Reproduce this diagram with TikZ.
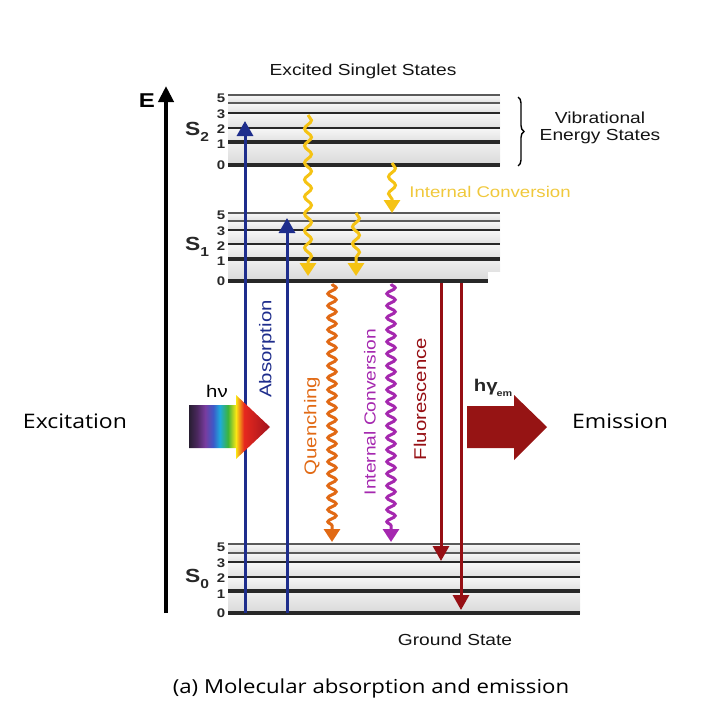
\documentclass[tikz,border=0pt]{standalone}
\usepackage{fontspec}
\setmainfont{Liberation Sans}
\newfontfamily\diagfont[FakeStretch=1.2]{Liberation Sans}
\newfontfamily\capfont[FakeStretch=1.15]{Open Sans}
\usetikzlibrary{arrows.meta,decorations.pathmorphing,decorations.pathreplacing}

\definecolor{absblue}{RGB}{30,45,140}
\definecolor{gold}{RGB}{245,195,20}
\definecolor{goldtext}{RGB}{240,200,60}
\definecolor{qorange}{RGB}{225,105,20}
\definecolor{icpurple}{RGB}{165,40,175}
\definecolor{fred}{RGB}{150,15,20}
\definecolor{emred}{RGB}{150,20,20}
\definecolor{lvdark}{RGB}{40,40,40}
\definecolor{lvgray}{RGB}{90,90,90}
\definecolor{rb0}{RGB}{40,30,50}
\definecolor{rb1}{RGB}{75,40,95}
\definecolor{rb2}{RGB}{120,60,160}
\definecolor{rb3}{RGB}{60,90,200}
\definecolor{rb4}{RGB}{30,170,220}
\definecolor{rb5}{RGB}{60,180,60}
\definecolor{rb6}{RGB}{250,230,20}
\definecolor{rb7}{RGB}{230,40,30}
\definecolor{rb8}{RGB}{160,20,30}

\pgfdeclarehorizontalshading{rainbowsh}{100bp}{color(0bp)=(rb0); color(25bp)=(rb0); color(30bp)=(rb1); color(35bp)=(rb2); color(40bp)=(rb3); color(44bp)=(rb4); color(49bp)=(rb5); color(54bp)=(rb6); color(59bp)=(rb7); color(75bp)=(rb8); color(100bp)=(rb8)}

\tikzset{
  lvthin/.style={line width=1.5pt, draw=lvgray},
  lvmed/.style={line width=2.4pt, draw=lvdark},
  lvthick/.style={line width=3.2pt, draw=lvdark},
  lvzero/.style={line width=4.2pt, draw=lvdark},
  band/.style={top color=gray!6, bottom color=gray!24, draw=none},
  digit/.style={font=\fontsize{12.5}{12.5}\diagfont\bfseries, text=lvdark, inner sep=0pt},
  slabel/.style={font=\fontsize{19}{19}\diagfont\bfseries, text=lvdark, inner sep=0pt},
  dtext/.style={font=\fontsize{16}{16}\diagfont, text=black!92, inner sep=0pt},
  rtext/.style={font=\fontsize{17}{17}\diagfont, inner sep=0pt, rotate=90},
  captext/.style={font=\fontsize{20}{20}\capfont, text=black, inner sep=0pt},
  straightarr/.style={line width=3pt, -{Triangle[width=16pt,length=15pt]}},
  wavyarr/.style={line width=3pt, decorate, decoration={snake, amplitude=3.5pt, segment length=17pt, post length=11pt}, -{Triangle[width=16pt,length=13pt]}},
  wavyfine/.style={decoration={snake, segment length=12pt, amplitude=4.2pt, post length=11pt}},
}

\begin{document}
\begin{tikzpicture}[x=1pt,y=-1pt]
\useasboundingbox (0,0) rectangle (708,720);

% ---------- S2 ----------
\foreach \a/\b in {95/103,103/113,113/128,128/142}
  \shade[band] (228,\a) rectangle (500,\b);
\shade[top color=gray!12, bottom color=gray!30] (228,142) rectangle (500,165);
\foreach \y/\s in {95/lvthin,103/lvthin,113/lvmed,128/lvmed,142/lvthick,165/lvzero}
  \draw[\s] (228,\y) -- (500,\y);
\foreach \y/\t in {98/5,114/3,129/2,144/1,165/0}
  \node[digit] (stwo\t) at (221,\y) {\t};
\node[slabel] (Stwo) at (197,132) {S\raisebox{-6pt}{\fontsize{13}{13}\selectfont 2}};

% ---------- S1 ----------
\foreach \a/\b in {213/221,221/230,230/244,244/259}
  \shade[band] (228,\a) rectangle (500,\b);
\shade[top color=gray!12, bottom color=gray!30] (228,259) rectangle (500,281);
\fill[white] (488,272) rectangle (545,326);
\foreach \y/\s in {213/lvthin,221/lvthin,230/lvmed,244/lvmed,259/lvthick}
  \draw[\s] (228,\y) -- (500,\y);
\draw[lvzero] (228,281) -- (488,281);
\foreach \y/\t in {215/5,231/3,246/2,261/1,281/0}
  \node[digit] (sone\t) at (221,\y) {\t};
\node[slabel] (Sone) at (197,247) {S\raisebox{-6pt}{\fontsize{13}{13}\selectfont 1}};

% ---------- S0 ----------
\foreach \a/\b in {544/553,553/562,562/577,577/591}
  \shade[band] (228,\a) rectangle (580,\b);
\shade[top color=gray!12, bottom color=gray!30] (228,591) rectangle (580,613);
\foreach \y/\s in {544/lvthin,553/lvthin,562/lvmed,577/lvmed,591/lvthick,613/lvzero}
  \draw[\s] (228,\y) -- (580,\y);
\foreach \y/\t in {547/5,563/3,578/2,594/1,613/0}
  \node[digit] (szero\t) at (221,\y) {\t};
\node[slabel] (Szero) at (197,579) {S\raisebox{-6pt}{\fontsize{13}{13}\selectfont 0}};

% ---------- energy axis ----------
\coordinate (axb) at (166,613);
\coordinate (axt) at (166,86);
\draw[line width=4pt, -{Triangle[width=15pt,length=16pt]}] (axb) -- (axt);
\node[slabel, text=black, font=\fontsize{20}{20}\diagfont\bfseries] (E) at (147,101) {E};

% ---------- titles ----------
\node[dtext] (title) at (363,71) {Excited Singlet States};
\node[dtext, align=center] (vib) at (600,128) {Vibrational\\[1pt]Energy States};
\coordinate (brt) at (518,97);
\coordinate (brb) at (518,166);
\draw[line width=1.4pt, decorate, decoration={brace, amplitude=6pt}] (brt) -- (brb);
\node[dtext, text=goldtext, font=\fontsize{15.5}{15.5}\diagfont] (ic1) at (490,192) {Internal Conversion};
\node[dtext] (ground) at (455,640) {Ground State};

% ---------- absorption ----------
\coordinate (a1s) at (245,613); \coordinate (a1e) at (245,121);
\coordinate (a2s) at (287,613); \coordinate (a2e) at (287,218);
\draw[straightarr, absblue] (a1s) -- (a1e);
\draw[straightarr, absblue] (a2s) -- (a2e);
\node[rtext, text=absblue] (abslab) at (267,349) {Absorption};

% ---------- internal conversion (yellow) ----------
\coordinate (y1s) at (308,115); \coordinate (y1e) at (308,276);
\coordinate (y2s) at (392,163); \coordinate (y2e) at (392,213);
\coordinate (y3s) at (356,213); \coordinate (y3e) at (356,276);
\draw[wavyarr, gold] (y1s) -- (y1e);
\draw[wavyarr, gold] (y2s) -- (y2e);
\draw[wavyarr, gold] (y3s) -- (y3e);

% ---------- quenching / IC / fluorescence ----------
\coordinate (qs) at (332,284); \coordinate (qe) at (332,542);
\coordinate (ps) at (391,284); \coordinate (pe) at (391,542);
\draw[wavyarr, wavyfine, qorange] (qs) -- (qe);
\draw[wavyarr, wavyfine, icpurple] (ps) -- (pe);
\node[rtext, text=qorange] (qlab) at (312,426) {Quenching};
\node[rtext, text=icpurple, font=\fontsize{16}{16}\diagfont] (iclab) at (370,412) {Internal Conversion};

\coordinate (f1s) at (441,283); \coordinate (f1e) at (441,561);
\coordinate (f2s) at (461,283); \coordinate (f2e) at (461,610);
\draw[straightarr, fred] (f1s) -- (f1e);
\draw[straightarr, fred] (f2s) -- (f2e);
\node[rtext, text=fred] (flab) at (420,399) {Fluorescence};

% ---------- photon arrows ----------
\path[shading=rainbowsh] (189,405) -- (236,405) -- (236,395) -- (270,427) -- (236,459) -- (236,448) -- (189,448) -- cycle;
\node[font=\fontsize{17}{17}\diagfont, inner sep=0pt] (hnu) at (217,391) {hν};

\fill[emred] (467,406) -- (514,406) -- (514,395) -- (547,427) -- (514,460) -- (514,448) -- (467,448) -- cycle;
\node[font=\fontsize{17}{17}\diagfont\bfseries, inner sep=0pt, text=black!85] (hgam) at (493,388) {hγ\kern-1pt\raisebox{-5pt}{\fontsize{9}{9}\selectfont em}};

% ---------- side labels and caption ----------
\node[captext] (exc) at (75,421) {Excitation};
\node[captext] (emi) at (620,421) {Emission};
\node[captext, font=\fontsize{19.3}{19.3}\capfont] (cap) at (371,688) {(a) Molecular absorption and emission};
\end{tikzpicture}
\end{document}
